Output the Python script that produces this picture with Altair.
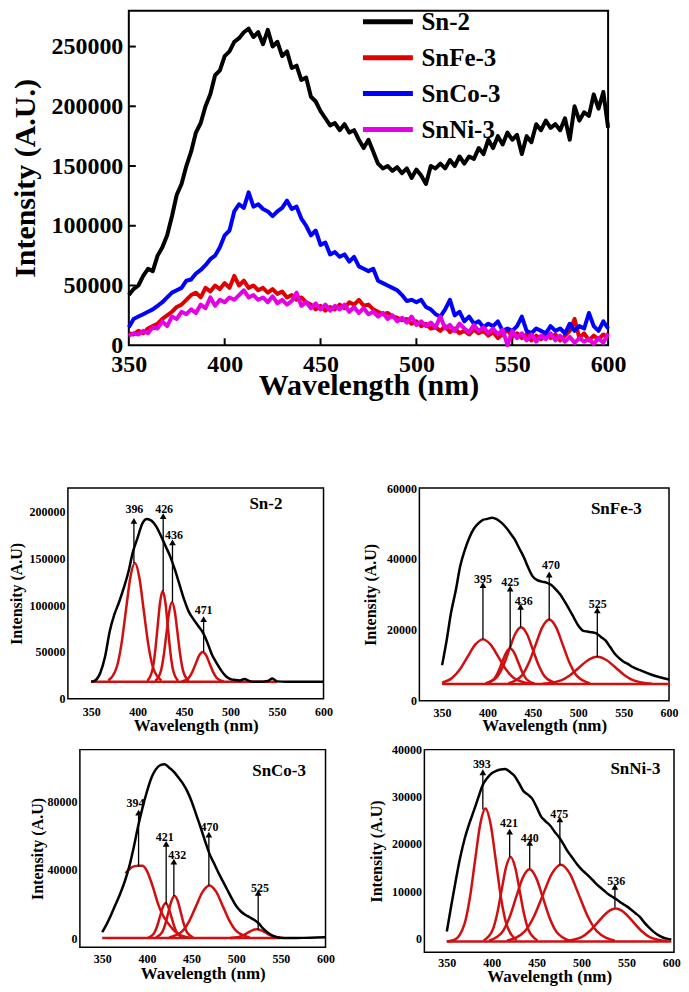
import altair as alt
import pandas as pd

FONT = "Liberation Serif"
RED = "#d01010"

# ---------------- top panel: spectra sampled every 2.5 nm, 350..600 (values in thousands) ----------------
WL_START, WL_STEP = 350, 2.5
sn2 = [42, 47, 50, 58, 64, 62, 75, 82, 92, 108,
       126, 135, 150, 162, 178, 186, 200, 210, 226, 230,
       242, 246, 254, 257, 262, 265, 258, 262, 252, 264,
       250, 254, 242, 246, 232, 234, 222, 224, 208, 204,
       196, 190, 184, 186, 180, 185, 178, 180, 172, 165,
       172, 162, 152, 148, 150, 146, 149, 144, 148, 140,
       147, 142, 135, 150, 148, 152, 148, 155, 150, 158,
       152, 158, 156, 165, 160, 172, 165, 175, 168, 178,
       172, 176, 160, 175, 170, 185, 180, 188, 182, 185,
       180, 190, 172, 200, 188, 195, 192, 210, 198, 212,
       182]
snfe = [10, 9, 12, 10, 14, 16, 18, 22, 25, 28,
        32, 34, 38, 42, 44, 40, 48, 45, 50, 47,
        52, 48, 58, 50, 54, 48, 50, 46, 48, 44,
        47, 43, 45, 40, 42, 38, 40, 36, 34, 30,
        33, 29, 32, 30, 34, 31, 36, 34, 38, 33,
        34, 30, 28, 26, 27, 24, 23, 21, 22, 18,
        20, 16, 18, 14, 15, 12, 16, 11, 14, 10,
        12, 9, 13, 10, 12, 8, 11, 6, 9, 13,
        7, 10, 6, 9, 4, 8, 5, 10, 6, 9,
        4, 8, 12, 22, 6, 10, 4, 8, 5, 9,
        6]
snco = [15, 22, 24, 26, 28, 30, 33, 36, 40, 44,
        46, 48, 54, 55, 60, 63, 67, 72, 75, 82,
        92, 96, 112, 118, 115, 128, 116, 118, 114, 112,
        108, 112, 115, 121, 114, 116, 106, 100, 92, 96,
        84, 86, 76, 78, 74, 76, 70, 74, 66, 64,
        62, 64, 54, 52, 50, 48, 46, 42, 37, 38,
        36, 38, 32, 30, 26, 24, 30, 38, 25, 28,
        20, 24, 18, 20, 15, 18, 16, 20, 12, 14,
        12, 16, 24, 12, 10, 14, 12, 10, 16, 12,
        14, 10, 18, 12, 16, 14, 27, 16, 12, 20,
        14]
snni = [8, 10, 9, 12, 10, 15, 14, 20, 16, 24,
        22, 28, 26, 30, 27, 34, 31, 40, 33, 38,
        36, 40, 38, 42, 46, 40, 42, 38, 40, 36,
        41, 35, 38, 34, 37, 44, 33, 36, 31, 35,
        30, 34, 29, 33, 30, 34, 28, 32, 27, 31,
        26, 28, 24, 27, 22, 25, 20, 23, 19, 24,
        17, 20, 16, 19, 15, 24, 14, 17, 12, 18,
        14, 11, 17, 12, 15, 10, 14, 9, 13, 0,
        12, 6, 10, 4, 9, 3, 8, 5, 10, 4,
        8, 3, 7, 2, 6, 3, 5, 1, 6, 2,
        10]
series_names = ["Sn-2", "SnFe-3", "SnCo-3", "SnNi-3"]
series_colors = ["#000000", "#e00000", "#0000ff", "#e600e6"]
top_x_dom = [350, 600]
top_y_dom = [0, 280000]
top_x_ticks = [350, 400, 450, 500, 550, 600]
top_y_ticks = [0, 50000, 100000, 150000, 200000, 250000]

# ---------------- deconvolution panels ----------------
# Sn-2
sn2_env_x = [350, 355, 360, 365, 370, 375, 380, 385, 390, 395, 400, 405, 410, 415, 420, 425, 430, 435, 440,
             445, 450, 455, 460, 465, 470, 475, 480, 485, 490, 495, 500, 505, 510, 515, 520, 525, 530, 540,
             545, 550, 560, 570, 580, 590, 600]
sn2_env_y = [18000, 20000, 28000, 45000, 72000, 90000, 103000, 118000, 135000, 157000, 172000, 187000, 192000,
             190000, 184000, 174000, 163000, 152000, 138000, 122000, 106000, 93000, 85000, 78000, 71000, 60000,
             47000, 38000, 30000, 24000, 21000, 20000, 19500, 21000, 19000, 18000, 18000, 19000, 21500, 18500,
             18000, 18000, 18000, 18000, 18000]
sn2_comps = [
    ([368.5, 378, 382.75, 387.5, 392.25, 397, 401.75, 406.5, 411.25, 416, 425.5],
     [19400, 35200, 59300, 95000, 130000, 145000, 130000, 95000, 59300, 35200, 19400]),
    ([410.5, 416, 418.75, 421.5, 424.25, 427, 429.75, 432.5, 435.25, 438, 443.5],
     [19100, 31100, 49500, 76900, 103600, 115000, 103600, 76900, 49500, 31100, 19100]),
    ([419, 425, 428, 431, 434, 437, 440, 443, 446, 449, 455],
     [18900, 29500, 45600, 69600, 93000, 103000, 93000, 69600, 45600, 29500, 18900]),
    ([447.5, 455, 458.75, 462.5, 466.25, 470, 473.75, 477.5, 481.25, 485, 492.5],
     [18400, 22300, 28400, 37400, 46200, 50000, 46200, 37400, 28400, 22300, 18400]),
]
sn2_base = (18000, 350, 550)
sn2_arrows = dict(pos=[396, 427.5, 437.5, 471], base=[145000, 115000, 103000, 50000],
                  tip=[190000, 195000, 167000, 85000], lx=[396.5, 428.5, 439, 471],
                  ly=[203000, 203000, 175000, 95000], label=["396", "426", "436", "471"])

# SnFe-3
snfe_env_x = [350, 355, 360, 365, 370, 375, 380, 385, 390, 395, 400, 405, 410, 415, 420, 425, 430, 435, 440,
              445, 450, 455, 460, 465, 470, 475, 480, 485, 490, 495, 500, 505, 510, 515, 520, 525, 530, 535,
              540, 545, 550, 555, 560, 570, 580, 590, 600]
snfe_env_y = [10000, 17000, 25000, 31000, 38000, 42500, 46000, 48500, 50000, 51000, 51300, 51600, 51200, 50300,
              49000, 47300, 45500, 43000, 40500, 37500, 35000, 34000, 33600, 33300, 32700, 31500, 30000, 28000,
              25800, 23500, 21200, 19800, 19500, 19300, 19000, 18000, 17000, 15200, 13300, 12000, 11000, 10300,
              9500, 8400, 7400, 6600, 6000]
snfe_comps = [
    ([350, 361, 369.5, 378, 386.5, 395, 403.5, 412, 420.5, 429, 446],
     [5100, 6400, 8800, 12350, 15800, 17300, 15800, 12350, 8800, 6400, 4840]),
    ([398, 407, 411.5, 416, 420.5, 425, 429.5, 434, 438.5, 443, 452],
     [4810, 6050, 7950, 10770, 13520, 14700, 13520, 10770, 7950, 6050, 4810]),
    ([398, 411, 417.5, 424, 430.5, 437, 443.5, 450, 456.5, 463, 476],
     [4880, 6860, 9900, 14410, 18810, 20700, 18810, 14410, 9900, 6860, 4880]),
    ([423, 438, 445.5, 453, 460.5, 468, 475.5, 483, 490.5, 498, 513],
     [4900, 7160, 10620, 15750, 20750, 22900, 20750, 15750, 10620, 7160, 4900]),
    ([461, 481, 491, 501, 511, 521, 531, 541, 551, 561, 581],
     [4790, 5740, 7200, 9370, 11490, 12400, 11490, 9370, 7200, 5740, 4790]),
]
snfe_base = (4700, 350, 600)
snfe_arrows = dict(pos=[395, 425, 436.5, 468, 521], base=[17300, 14700, 20700, 22900, 12400],
                   tip=[32600, 31600, 26500, 35600, 25500], lx=[395, 425, 440, 470, 521.5],
                   ly=[34200, 33600, 28000, 38400, 27400], label=["395", "425", "436", "470", "525"])

# SnCo-3
snco_env_x = [350, 355, 360, 365, 370, 375, 380, 385, 390, 395, 400, 405, 410, 415, 420, 425, 430, 435, 440,
              445, 450, 455, 460, 465, 470, 475, 480, 485, 490, 495, 500, 505, 510, 515, 520, 525, 530, 535,
              540, 545, 550, 560, 575, 590, 600]
snco_env_y = [3800, 8500, 14000, 20000, 26000, 33000, 41500, 52500, 65000, 76000, 85500, 93500, 98500, 101000,
              101500, 99500, 97200, 94000, 90500, 86000, 80000, 72500, 65000, 57000, 49500, 44000, 38500, 33500,
              28500, 23500, 19000, 16000, 14000, 12500, 11000, 9000, 6000, 3700, 2000, 1000, 500, 400, 500,
              700, 800]
snco_comps = [
    ([376, 384, 390, 395, 400, 404, 408, 412, 417, 423, 430, 438, 449],
     [38000, 41800, 42400, 42500, 39500, 34300, 28000, 21000, 14500, 9500, 5000, 1900, 500]),
    ([401.5, 408, 411.25, 414.5, 417.75, 421, 424.25, 427.5, 430.75, 434, 440.5],
     [620, 3130, 6970, 12660, 18220, 20600, 18220, 12660, 6970, 3130, 620]),
    ([410, 417, 420.5, 424, 427.5, 431, 434.5, 438, 441.5, 445, 452],
     [670, 3690, 8330, 15210, 21920, 24800, 21920, 15210, 8330, 3690, 670]),
    ([425, 440, 447.5, 455, 462.5, 470, 477.5, 485, 492.5, 500, 515],
     [740, 4530, 10350, 18970, 27390, 31000, 27390, 18970, 10350, 4530, 740]),
    ([493, 503, 508, 513, 518, 523, 528, 533, 538, 543, 553],
     [460, 1090, 2060, 3500, 4900, 5500, 4900, 3500, 2060, 1090, 460]),
]
snco_base = (400, 350, 550)
snco_arrows = dict(pos=[390.7, 421.6, 430.2, 469.4, 524.6], base=[41900, 20000, 24800, 31000, 5100],
                   tip=[73300, 55200, 44800, 60600, 26700], lx=[387.3, 420.1, 434, 470.1, 526.5],
                   ly=[79000, 59400, 48600, 65100, 29500], label=["394", "421", "432", "470", "525"])

# SnNi-3
snni_env_x = [350, 355, 360, 365, 370, 375, 380, 385, 390, 395, 400, 405, 410, 415, 420, 425, 430, 435, 440,
              445, 450, 455, 460, 465, 470, 475, 480, 485, 490, 495, 500, 505, 510, 515, 520, 525, 530, 535,
              540, 545, 550, 555, 560, 565, 570, 575, 580, 585, 590, 595, 600]
snni_env_y = [1400, 7000, 12300, 17200, 21200, 24300, 27000, 29800, 32500, 34000, 35000, 35500, 35800, 35900,
              35300, 34500, 33000, 31300, 30500, 29600, 27800, 25800, 24800, 23900, 22600, 21400, 19900, 18300,
              17000, 15700, 14600, 13700, 12800, 11800, 10900, 10100, 9300, 8700, 8100, 7400, 6800, 6100, 5300,
              4500, 3300, 2300, 1400, 700, 200, -100, -300]
snni_comps = [
    ([350, 358.2, 369.8, 375.6, 381.4, 387.2, 393, 398.8, 404.6, 410.4, 416.2, 427.8],
     [-700, -390, 3110, 8470, 16420, 24170, 27500, 24170, 16420, 8470, 3110, -390]),
    ([391, 401, 406, 411, 416, 421, 426, 431, 436, 441, 451],
     [-500, 1720, 5120, 10170, 15090, 17200, 15090, 10170, 5120, 1720, -500]),
    ([397, 412, 419.5, 427, 434.5, 442, 449.5, 457, 464.5, 472, 487],
     [-530, 1370, 4270, 8590, 12790, 14600, 12790, 8590, 4270, 1370, -530]),
    ([417, 437, 447, 457, 467, 477, 487, 497, 507, 517, 537],
     [-520, 1500, 4600, 9190, 13680, 15600, 13680, 9190, 4600, 1500, -520]),
    ([481, 500, 509.5, 519, 528.5, 538, 547.5, 557, 566.5, 576, 595],
     [-620, 245, 1575, 3550, 5470, 6300, 5470, 3550, 1575, 245, -620]),
]
snni_base = (-700, 350, 600)
snni_arrows = dict(pos=[390.1, 420, 442.3, 475.9, 537.2], base=[27300, 17200, 14700, 15600, 6500],
                   tip=[35200, 22600, 20200, 25200, 10900], lx=[389, 419.3, 442.3, 475.2, 538.7],
                   ly=[36900, 24400, 21300, 26300, 12200], label=["393", "421", "440", "475", "536"])

NOBOX = alt.ViewBackground(stroke="transparent")

# ---------------- top chart ----------------
rows = []
wl = [WL_START + WL_STEP * i for i in range(len(sn2))]
for name, vals in zip(series_names, [sn2, snfe, snco, snni]):
    for w, v in zip(wl, vals):
        rows.append({"wl": w, "val": v * 1000, "series": name})
top_df = pd.DataFrame(rows)

TOP_W, TOP_H, TOP_OFF, TICK = 480, 335, 61, 7
txs = alt.Scale(domain=top_x_dom, range=[TOP_OFF, TOP_OFF + TOP_W], nice=False, zero=False)
tys = alt.Scale(domain=top_y_dom, nice=False, zero=False)
top_frame_df = pd.DataFrame({"x": [top_x_dom[0]], "x2": [top_x_dom[1]],
                             "y": [top_y_dom[0]], "y2": [top_y_dom[1]]})
top_frame = alt.Chart(top_frame_df).mark_rect(fillOpacity=0, stroke="black", strokeWidth=2).encode(
    x=alt.X("x:Q", scale=txs,
            axis=alt.Axis(values=top_x_ticks, format="d", title="Wavelength (nm)",
                          labelFontSize=24, titleFontSize=30, ticks=False, domain=False, grid=False,
                          labelPadding=7, titlePadding=-6, labelFlush=False)),
    x2="x2:Q",
    y=alt.Y("y:Q", scale=tys,
            axis=alt.Axis(values=top_y_ticks, format="d", title="Intensity (A.U.)",
                          labelFontSize=24, titleFontSize=30, ticks=False, domain=False, grid=False,
                          labelPadding=6, titlePadding=10, offset=-TOP_OFF)),
    y2="y2:Q",
)
ytick_l = alt.Chart(pd.DataFrame({"t": top_y_ticks[1:]})).mark_rule(color="black", strokeWidth=2).encode(
    y="t:Q", x=alt.value(TOP_OFF), x2=alt.value(TOP_OFF + TICK))
xtick_l = alt.Chart(pd.DataFrame({"t": top_x_ticks[1:-1]})).mark_rule(color="black", strokeWidth=2).encode(
    x="t:Q", y=alt.value(TOP_H), y2=alt.value(TOP_H - TICK))
top_lines = alt.Chart(top_df).mark_line(strokeWidth=4, strokeJoin="round").encode(
    x="wl:Q", y="val:Q",
    color=alt.Color("series:N", sort=series_names,
                    scale=alt.Scale(domain=series_names, range=series_colors),
                    legend=alt.Legend(orient="none", legendX=293, legendY=0, title=None,
                                      symbolType="stroke", symbolSize=2500, symbolStrokeWidth=5,
                                      labelFontSize=25, labelFontWeight="bold", labelColor="black",
                                      labelOffset=6, rowPadding=11, clipHeight=22)),
    order=alt.Order("wl:Q"),
)
top = alt.layer(top_frame, ytick_l, xtick_l, top_lines).properties(
    width=TOP_OFF + TOP_W, height=TOP_H, view=NOBOX)


def panel(env_x, env_y, comps, base, arrows, title, title_xy, xdom, ydom, yticks, w, h,
          ytp, xlp, xtp, xoff=0):
    env_df = pd.DataFrame({"x": env_x, "y": env_y})
    crows = []
    for i, (cx, cy) in enumerate(comps):
        for a, b in zip(cx, cy):
            crows.append({"x": a, "y": b, "comp": i})
    comp_df = pd.DataFrame(crows)
    base_df = pd.DataFrame({"x": [base[1]], "x2": [base[2]], "y": [base[0]]})
    arr_df = pd.DataFrame(arrows)
    title_df = pd.DataFrame({"x": [title_xy[0]], "y": [title_xy[1]], "t": [title]})
    frame_df = pd.DataFrame({"x": [xdom[0]], "x2": [xdom[1]], "y": [ydom[0]], "y2": [ydom[1]]})

    xs = alt.Scale(domain=xdom, range=[xoff, xoff + w], nice=False, zero=False)
    ys = alt.Scale(domain=ydom, nice=False, zero=False)
    xaxis = alt.Axis(values=[350, 400, 450, 500, 550, 600], format="d", title="Wavelength (nm)",
                     labelFontSize=12, titleFontSize=17, ticks=False, domain=False, grid=False,
                     labelPadding=xlp, titlePadding=xtp, labelFlush=False)
    yaxis = alt.Axis(values=yticks, format="d", title="Intensity (A.U)",
                     labelFontSize=12, titleFontSize=16, ticks=False, domain=False, grid=False,
                     labelPadding=3, titlePadding=ytp, offset=-xoff)

    frame_l = alt.Chart(frame_df).mark_rect(fillOpacity=0, stroke="black", strokeWidth=1.5).encode(
        x=alt.X("x:Q", scale=xs, axis=xaxis), x2="x2:Q",
        y=alt.Y("y:Q", scale=ys, axis=yaxis), y2="y2:Q")
    base_l = alt.Chart(base_df).mark_rule(color=RED, strokeWidth=2.5).encode(
        x="x:Q", x2="x2:Q", y="y:Q")
    comp_l = alt.Chart(comp_df).mark_line(color=RED, strokeWidth=2.5, interpolate="monotone").encode(
        x="x:Q", y="y:Q", detail="comp:N")
    env_l = alt.Chart(env_df).mark_line(color="black", strokeWidth=2.5, interpolate="monotone").encode(
        x="x:Q", y="y:Q")
    arr_l = alt.Chart(arr_df).mark_rule(color="black", strokeWidth=1.3).encode(
        x=alt.X("pos:Q"), y=alt.Y("base:Q"), y2="tip:Q")
    head_l = alt.Chart(arr_df).mark_point(shape="triangle-up", filled=True, color="black",
                                          size=45, opacity=1).encode(x="pos:Q", y="tip:Q")
    lab_l = alt.Chart(arr_df).mark_text(fontSize=12, fontWeight="bold", color="black").encode(
        x="lx:Q", y="ly:Q", text="label:N")
    tit_l = alt.Chart(title_df).mark_text(fontSize=17, fontWeight="bold", color="black").encode(
        x="x:Q", y="y:Q", text="t:N")
    return alt.layer(frame_l, base_l, comp_l, env_l, arr_l, head_l, lab_l, tit_l).properties(
        width=xoff + w, height=h, view=NOBOX)


p_sn2 = panel(sn2_env_x, sn2_env_y, sn2_comps, sn2_base, sn2_arrows, "Sn-2", (538, 208000),
              [325, 600], [0, 225000], [0, 50000, 100000, 150000, 200000], 256, 211, 4, 8, 0)
p_snfe = panel(snfe_env_x, snfe_env_y, snfe_comps, snfe_base, snfe_arrows, "SnFe-3", (542, 54000),
               [325, 600], [0, 60000], [0, 10000, 20000, 30000, 40000, 50000, 60000], 250, 213, 8, 7, -1)
p_snco = panel(snco_env_x, snco_env_y, snco_comps, snco_base, snco_arrows, "SnCo-3", (548, 97700),
               [325, 600], [-5000, 110000], [0, 20000, 40000, 60000, 80000, 100000], 246, 198, 1, 6, 1,
               xoff=12)
p_snni = panel(snni_env_x, snni_env_y, snni_comps, snni_base, snni_arrows, "SnNi-3", (560, 35900),
               [325, 603], [-3000, 40000], [0, 10000, 20000, 30000, 40000], 250, 203, 7, 5, 0)

row1 = alt.hconcat(p_sn2, p_snfe, spacing=96, bounds="flush")
row2 = alt.hconcat(p_snco, p_snni, spacing=99, bounds="flush")
bottom = alt.vconcat(row1, row2, spacing=8)

chart = alt.vconcat(top, bottom, spacing=80).properties(padding=0).configure(
    font=FONT
).configure_axis(
    labelColor="black", titleColor="black", labelFontWeight="bold", titleFontWeight="bold",
    labelFont=FONT, titleFont=FONT
).configure_legend(labelFont=FONT)

chart.save("out.html", embed_options={"renderer": "svg", "actions": False})
